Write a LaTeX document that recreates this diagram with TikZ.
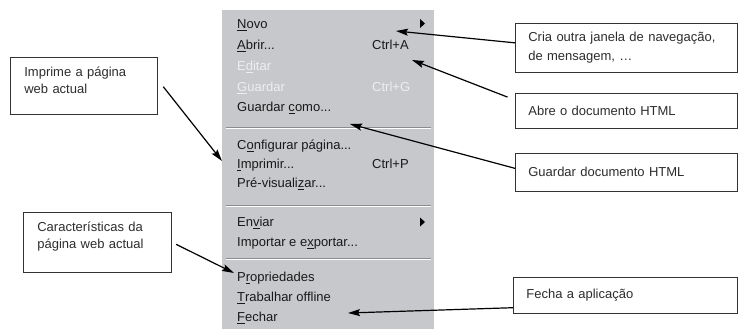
\documentclass[tikz,border=0pt]{standalone}
\usepackage{fontspec}
\setmainfont{Liberation Sans}
\usetikzlibrary{arrows.meta}
\definecolor{menubg}{RGB}{198,200,203}
\definecolor{menuoff}{RGB}{238,238,238}
\definecolor{notetxt}{RGB}{45,45,45}
\tikzset{
  note/.style={draw=black!80,line width=.7pt,fill=white,align=left,text=notetxt,
    anchor=north west,inner xsep=13pt,inner ysep=0pt,font=\fontsize{13}{19.5}\selectfont},
  noteleft/.style={note,inner xsep=14pt,inner ysep=10pt,font=\fontsize{13}{16.5}\selectfont},
  item/.style={anchor=base west,inner sep=0pt,text=black!90,font=\fontsize{13}{15}\selectfont},
  off/.style={item,text=menuoff},
  arr/.style={-{Stealth[length=12pt,width=7pt,inset=2pt]},line width=1.2pt},
  sep/.style={draw=black!45,line width=.8pt}
}

\begin{document}
\begin{tikzpicture}[x=1pt,y=-1pt]
                    \useasboundingbox(0,0)rectangle(739,329);
                    % the menu
                    \fill[menubg](222,10)rectangle(434,329);
                    \node[item](novo)at(237,28.5){\underline{N}ovo};
                    \fill(420,19)--(425,23.5)--(420,28)--cycle;
                    \node[item](abrir)at(237,49.5){\underline{A}brir...};
                    \node[item](ctrla)at(372,49.5){Ctrl+A};
                    \node[off](editar)at(237,70.5){E\underline{d}itar};
                    \node[off](guardar)at(237,91.5){\underline{G}uardar};
                    \node[off](ctrlg)at(372,91.5){Ctrl+G};
                    \node[item](guardarcomo)at(237,111.5){Guardar \underline{c}omo...};
                    \draw[sep](226,127)--(431,127);
                    \draw[white,line width=.8pt](226,128)--(431,128);
                    \node[item](configurar)at(237,149.5){C\underline{o}nfigurar página...};
                    \node[item](imprimir)at(237,168.5){\underline{I}mprimir...};
                    \node[item](ctrlp)at(372,168.5){Ctrl+P};
                    \node[item](previs)at(237,187.5){Pré-visuali\underline{z}ar...};
                    \draw[sep](226,205)--(431,205);
                    \draw[white,line width=.8pt](226,206)--(431,206);
                    \node[item](enviar)at(237,226.5){En\underline{v}iar};
                    \fill(420,217.5)--(425,222)--(420,226.5)--cycle;
                    \node[item](importar)at(237,246.5){Importar e e\underline{x}portar...};
                    \draw[sep](226,258)--(431,258);
                    \draw[white,line width=.8pt](226,259)--(431,259);
                    \node[item](propriedades)at(237,281.5){P\underline{r}opriedades};
                    \node[item](trabalhar)at(237,301.5){\underline{T}rabalhar offline};
                    \node[item](fechar)at(237,321.5){\underline{F}echar};
                    % the notes
                    \node[noteleft,text width=119pt,text depth=27pt](imprime)at(10,57){Imprime a página\\web actual};
                    \node[noteleft,text width=120pt,text depth=30pt](caract)at(23,212){Características da\\página web actual};
                    \node[note,text width=196pt,minimum height=49pt](cria)at(515,23){Cria outra janela de navegação,\\de mensagem, \dots};
                    \node[note,text width=196pt,minimum height=35pt](abre)at(515,93){Abre o documento HTML};
                    \node[note,text width=196pt,minimum height=38pt](guarda)at(515,153){Guardar documento HTML};
                    \node[note,text width=198pt,minimum height=36pt](fecha)at(513,277){Fecha a aplicação};
                    % the arrows
                    \coordinate(tipA)at(396,31);
                    \coordinate(tipB)at(412,60);
                    \coordinate(tipC)at(350,124);
                    \coordinate(tipD)at(348,313);
                    \coordinate(tipE)at(222,161);
                    \coordinate(tipF)at(234,273);
                    \draw[arr]([yshift=5pt]cria.west)--(tipA);
                    \draw[arr,shorten <=8pt]([yshift=-7pt]abre.north west)--(tipB);
                    \draw[arr]([yshift=4pt]guarda.west)--(tipC);
                    \draw[arr]([yshift=6pt]fecha.south west)--(tipD);
                    \draw[arr,shorten <=9pt]([yshift=6pt]imprime.east)--(tipE);
                    \draw[arr,shorten <=5pt](caract.east)--(tipF);
                \end{tikzpicture}
\end{document}
